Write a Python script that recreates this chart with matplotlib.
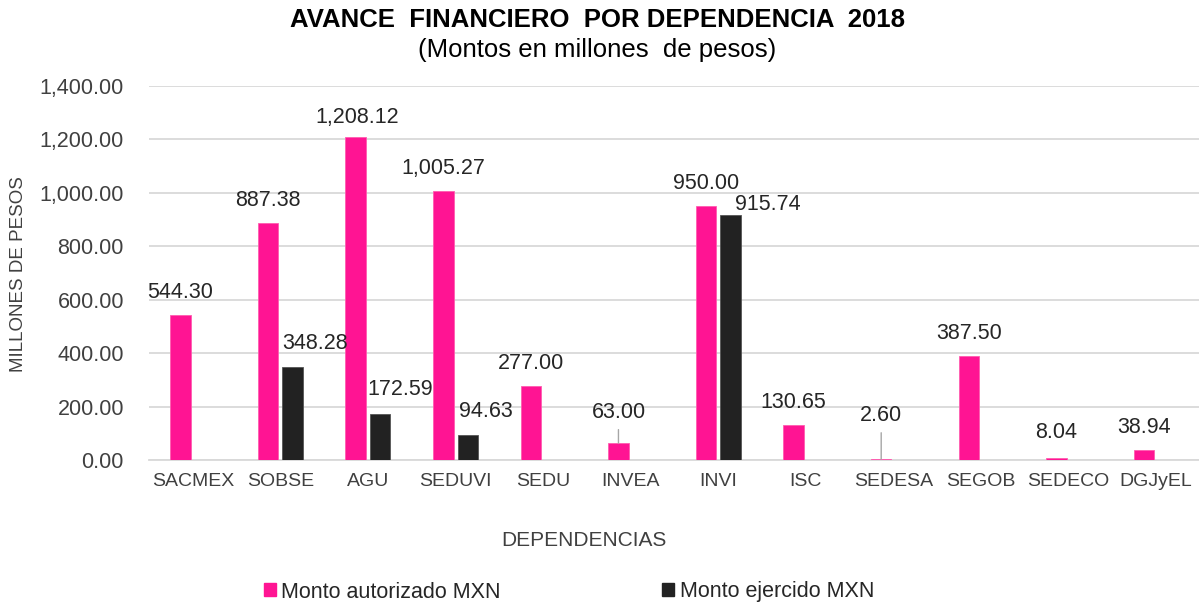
import numpy as np
import matplotlib
matplotlib.use("Agg")
import matplotlib.pyplot as plt
from matplotlib.patches import Patch

# ---- data ----
categories = ["SACMEX", "SOBSE", "AGU", "SEDUVI", "SEDU", "INVEA", "INVI",
              "ISC", "SEDESA", "SEGOB", "SEDECO", "DGJyEL"]
autorizado = [544.30, 887.38, 1208.12, 1005.27, 277.00, 63.00, 950.00,
              130.65, 2.60, 387.50, 8.04, 38.94]
ejercido = [None, 348.28, 172.59, 94.63, None, None, 915.74,
            None, None, None, None, None]
series_names = ["Monto autorizado MXN", "Monto ejercido MXN"]
y_ticks = [0, 200, 400, 600, 800, 1000, 1200, 1400]

# label offsets in pixels (dx, dy) from bar top centre; leader flag
pink_offsets = {2: (1, 20), 5: (0, 31), 8: (0, 44), 10: (0, 25)}
leader_idx = {5, 8}
black_offsets = {1: (22, 23.5), 2: (20, 24), 3: (18.5, 23.5), 6: (37.5, 11)}

PINK = "#FF1493"
DARK = "#222222"
FONT = ["Liberation Sans", "DejaVu Sans"]
plt.rcParams["font.family"] = FONT

W, H = 1199, 605
fig = plt.figure(figsize=(W / 100, H / 100), dpi=100)
ax = fig.add_axes([149 / W, (H - 460) / H, (1200 - 149) / W, 374 / H])

x = np.arange(len(categories))
bw = 0.234
off = 0.14
pv = np.array(autorizado, dtype=float)
bv = np.array([np.nan if v is None else v for v in ejercido], dtype=float)

ax.bar(x - off, pv, width=bw, color=PINK, edgecolor="#FF5CB0", linewidth=0.6, zorder=3)
mask = ~np.isnan(bv)
ax.bar(x[mask] + off, bv[mask], width=bw, color=DARK, edgecolor="#555555", linewidth=0.6, zorder=3)

ax.set_xlim(-0.5, len(categories) - 0.5)
ax.set_ylim(0, 1400)
ax.set_yticks(y_ticks)
ax.set_yticklabels([f"{v:,.2f}" for v in y_ticks])
ax.set_xticks(x)
ax.set_xticklabels(categories)
ax.tick_params(axis="y", length=0, pad=18, labelsize=15.5, labelcolor="#404040")
ax.tick_params(axis="x", length=0, pad=9, labelsize=14, labelcolor="#404040")
ax.grid(axis="y", color="#D9D9D9", linewidth=1.3, zorder=0)
ax.set_axisbelow(True)
for s in ["top", "right", "left"]:
    ax.spines[s].set_visible(False)
ax.spines["bottom"].set_color("#D9D9D9")
ax.spines["bottom"].set_linewidth(1.3)

lab_kw = dict(textcoords="offset pixels", ha="center", va="center",
              fontsize=15.5, color="#262626", zorder=5)
for i, v in enumerate(pv):
    dx, dy = pink_offsets.get(i, (0, 22.5))
    ap = None
    if i in leader_idx:
        ap = dict(arrowstyle="-", color="#A6A6A6", lw=1.0, shrinkA=3, shrinkB=0)
    ax.annotate(f"{v:,.2f}", xy=(x[i] - off, v), xytext=(dx, dy),
                arrowprops=ap, **lab_kw)
for i, v in enumerate(bv):
    if np.isnan(v):
        continue
    dx, dy = black_offsets.get(i, (0, 22.5))
    ax.annotate(f"{v:,.2f}", xy=(x[i] + off, v), xytext=(dx, dy), **lab_kw)

# axis titles
fig.text(18.5 / W, 1 - 274 / H, "MILLONES DE PESOS", rotation=90,
         ha="center", va="center", fontsize=13.5, color="#404040")
fig.text(584 / W, 1 - 541 / H, "DEPENDENCIAS", ha="center", va="center",
         fontsize=15, color="#404040")

# title
fig.text(597 / W, 1 - 20 / H, "AVANCE  FINANCIERO  POR DEPENDENCIA  2018",
         ha="center", va="center", fontsize=18.5, fontweight="bold", color="#000000")
fig.text(597 / W, 1 - 50 / H, "(Montos en millones  de pesos)",
         ha="center", va="center", fontsize=18.5, color="#000000")

handles = [Patch(facecolor=PINK, edgecolor=PINK), Patch(facecolor=DARK, edgecolor=DARK)]
fig.legend(handles, series_names, loc="center", bbox_to_anchor=(569 / W, 1 - 592 / H),
           ncol=2, frameon=False, fontsize=15.5, handlelength=0.56, handleheight=0.56,
           handletextpad=0.25, columnspacing=7.5, labelcolor="#262626",
           borderpad=0, borderaxespad=0)

fig.savefig("out.png", dpi=100, facecolor="white")
